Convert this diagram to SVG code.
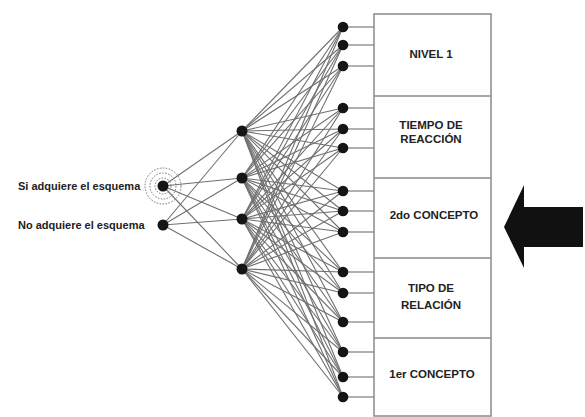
<svg xmlns="http://www.w3.org/2000/svg" width="585" height="417" viewBox="0 0 585 417">
<style>
.edge{stroke:#707070;stroke-width:1.1;fill:none}
.node{fill:#151515}
.box{fill:#ffffff;stroke:#8a8a8a;stroke-width:1.5}
.div{stroke:#8a8a8a;stroke-width:1.5}
.lbl{font-family:"Liberation Sans",Arial,sans-serif;font-weight:bold;font-size:11px;fill:#222}
.blbl{font-family:"Liberation Sans",Arial,sans-serif;font-weight:bold;font-size:11.5px;fill:#222}
.ring{fill:none;stroke:#777;stroke-width:1;stroke-dasharray:1.6 1.4}
</style>
<rect width="585" height="417" fill="#ffffff"/>
<g id="connectors">
<line class="edge" x1="163" y1="186" x2="242" y2="131"/>
<line class="edge" x1="163" y1="186" x2="242" y2="178"/>
<line class="edge" x1="163" y1="186" x2="242" y2="219"/>
<line class="edge" x1="163" y1="186" x2="242" y2="269"/>
<line class="edge" x1="163" y1="225" x2="242" y2="131"/>
<line class="edge" x1="163" y1="225" x2="242" y2="178"/>
<line class="edge" x1="163" y1="225" x2="242" y2="219"/>
<line class="edge" x1="163" y1="225" x2="242" y2="269"/>
<g>
<line class="edge" x1="242" y1="131" x2="343" y2="27"/>
<line class="edge" x1="242" y1="131" x2="343" y2="45"/>
<line class="edge" x1="242" y1="131" x2="343" y2="66"/>
<line class="edge" x1="242" y1="131" x2="343" y2="108"/>
<line class="edge" x1="242" y1="131" x2="343" y2="129"/>
<line class="edge" x1="242" y1="131" x2="343" y2="148"/>
<line class="edge" x1="242" y1="131" x2="343" y2="191"/>
<line class="edge" x1="242" y1="131" x2="343" y2="211"/>
<line class="edge" x1="242" y1="131" x2="343" y2="232"/>
<line class="edge" x1="242" y1="131" x2="343" y2="272"/>
<line class="edge" x1="242" y1="131" x2="343" y2="293"/>
<line class="edge" x1="242" y1="131" x2="343" y2="322"/>
<line class="edge" x1="242" y1="131" x2="343" y2="352"/>
<line class="edge" x1="242" y1="131" x2="343" y2="377"/>
<line class="edge" x1="242" y1="131" x2="343" y2="397"/>
</g>
<g>
<line class="edge" x1="242" y1="178" x2="343" y2="27"/>
<line class="edge" x1="242" y1="178" x2="343" y2="45"/>
<line class="edge" x1="242" y1="178" x2="343" y2="66"/>
<line class="edge" x1="242" y1="178" x2="343" y2="108"/>
<line class="edge" x1="242" y1="178" x2="343" y2="129"/>
<line class="edge" x1="242" y1="178" x2="343" y2="148"/>
<line class="edge" x1="242" y1="178" x2="343" y2="191"/>
<line class="edge" x1="242" y1="178" x2="343" y2="211"/>
<line class="edge" x1="242" y1="178" x2="343" y2="232"/>
<line class="edge" x1="242" y1="178" x2="343" y2="272"/>
<line class="edge" x1="242" y1="178" x2="343" y2="293"/>
<line class="edge" x1="242" y1="178" x2="343" y2="322"/>
<line class="edge" x1="242" y1="178" x2="343" y2="352"/>
<line class="edge" x1="242" y1="178" x2="343" y2="377"/>
<line class="edge" x1="242" y1="178" x2="343" y2="397"/>
</g>
<g>
<line class="edge" x1="242" y1="219" x2="343" y2="27"/>
<line class="edge" x1="242" y1="219" x2="343" y2="45"/>
<line class="edge" x1="242" y1="219" x2="343" y2="66"/>
<line class="edge" x1="242" y1="219" x2="343" y2="108"/>
<line class="edge" x1="242" y1="219" x2="343" y2="129"/>
<line class="edge" x1="242" y1="219" x2="343" y2="148"/>
<line class="edge" x1="242" y1="219" x2="343" y2="191"/>
<line class="edge" x1="242" y1="219" x2="343" y2="211"/>
<line class="edge" x1="242" y1="219" x2="343" y2="232"/>
<line class="edge" x1="242" y1="219" x2="343" y2="272"/>
<line class="edge" x1="242" y1="219" x2="343" y2="293"/>
<line class="edge" x1="242" y1="219" x2="343" y2="322"/>
<line class="edge" x1="242" y1="219" x2="343" y2="352"/>
<line class="edge" x1="242" y1="219" x2="343" y2="377"/>
<line class="edge" x1="242" y1="219" x2="343" y2="397"/>
</g>
<g>
<line class="edge" x1="242" y1="269" x2="343" y2="27"/>
<line class="edge" x1="242" y1="269" x2="343" y2="45"/>
<line class="edge" x1="242" y1="269" x2="343" y2="66"/>
<line class="edge" x1="242" y1="269" x2="343" y2="108"/>
<line class="edge" x1="242" y1="269" x2="343" y2="129"/>
<line class="edge" x1="242" y1="269" x2="343" y2="148"/>
<line class="edge" x1="242" y1="269" x2="343" y2="191"/>
<line class="edge" x1="242" y1="269" x2="343" y2="211"/>
<line class="edge" x1="242" y1="269" x2="343" y2="232"/>
<line class="edge" x1="242" y1="269" x2="343" y2="272"/>
<line class="edge" x1="242" y1="269" x2="343" y2="293"/>
<line class="edge" x1="242" y1="269" x2="343" y2="322"/>
<line class="edge" x1="242" y1="269" x2="343" y2="352"/>
<line class="edge" x1="242" y1="269" x2="343" y2="377"/>
<line class="edge" x1="242" y1="269" x2="343" y2="397"/>
</g>
<g>
<line class="edge" x1="343" y1="27" x2="374" y2="27"/>
<line class="edge" x1="343" y1="45" x2="374" y2="45"/>
<line class="edge" x1="343" y1="66" x2="374" y2="66"/>
<line class="edge" x1="343" y1="108" x2="374" y2="108"/>
<line class="edge" x1="343" y1="129" x2="374" y2="129"/>
<line class="edge" x1="343" y1="148" x2="374" y2="148"/>
<line class="edge" x1="343" y1="191" x2="374" y2="191"/>
<line class="edge" x1="343" y1="211" x2="374" y2="211"/>
<line class="edge" x1="343" y1="232" x2="374" y2="232"/>
<line class="edge" x1="343" y1="272" x2="374" y2="272"/>
<line class="edge" x1="343" y1="293" x2="374" y2="293"/>
<line class="edge" x1="343" y1="322" x2="374" y2="322"/>
<line class="edge" x1="343" y1="352" x2="374" y2="352"/>
<line class="edge" x1="343" y1="377" x2="374" y2="377"/>
<line class="edge" x1="343" y1="397" x2="374" y2="397"/>
</g>
</g>
<g id="input-si">
<circle class="ring" cx="163" cy="186" r="8"/>
<circle class="ring" cx="163" cy="186" r="13"/>
<circle class="ring" cx="163" cy="186" r="18"/>
<circle class="node" cx="163" cy="186" r="5.5"/>
<text class="lbl" x="18" y="190">Si adquiere el esquema</text>
</g>
<g id="input-no">
<circle class="node" cx="163" cy="225" r="5.5"/>
<text class="lbl" x="18" y="229">No adquiere el esquema</text>
</g>
<g id="hidden-1"><circle class="node" cx="242" cy="131" r="5.5"/></g>
<g id="hidden-2"><circle class="node" cx="242" cy="178" r="5.5"/></g>
<g id="hidden-3"><circle class="node" cx="242" cy="219" r="5.5"/></g>
<g id="hidden-4"><circle class="node" cx="242" cy="269" r="5.5"/></g>
<g id="out-1"><circle class="node" cx="343" cy="27" r="5.3"/></g>
<g id="out-2"><circle class="node" cx="343" cy="45" r="5.3"/></g>
<g id="out-3"><circle class="node" cx="343" cy="66" r="5.3"/></g>
<g id="out-4"><circle class="node" cx="343" cy="108" r="5.3"/></g>
<g id="out-5"><circle class="node" cx="343" cy="129" r="5.3"/></g>
<g id="out-6"><circle class="node" cx="343" cy="148" r="5.3"/></g>
<g id="out-7"><circle class="node" cx="343" cy="191" r="5.3"/></g>
<g id="out-8"><circle class="node" cx="343" cy="211" r="5.3"/></g>
<g id="out-9"><circle class="node" cx="343" cy="232" r="5.3"/></g>
<g id="out-10"><circle class="node" cx="343" cy="272" r="5.3"/></g>
<g id="out-11"><circle class="node" cx="343" cy="293" r="5.3"/></g>
<g id="out-12"><circle class="node" cx="343" cy="322" r="5.3"/></g>
<g id="out-13"><circle class="node" cx="343" cy="352" r="5.3"/></g>
<g id="out-14"><circle class="node" cx="343" cy="377" r="5.3"/></g>
<g id="out-15"><circle class="node" cx="343" cy="397" r="5.3"/></g>
<g id="box">
<rect class="box" x="374" y="14" width="117" height="402"/>
<line class="div" x1="374" y1="96" x2="491" y2="96"/>
<line class="div" x1="374" y1="178" x2="491" y2="178"/>
<line class="div" x1="374" y1="258" x2="491" y2="258"/>
<line class="div" x1="374" y1="338" x2="491" y2="338"/>
</g>
<g id="nivel1"><text class="blbl" x="431" y="58" text-anchor="middle">NIVEL 1</text></g>
<g id="tiempo"><text class="blbl" x="431" y="129" text-anchor="middle">TIEMPO DE</text><text class="blbl" x="431" y="143" text-anchor="middle">REACCIÓN</text></g>
<g id="concepto2"><text class="blbl" x="434" y="219" text-anchor="middle">2do CONCEPTO</text></g>
<g id="tipo"><text class="blbl" x="431" y="292" text-anchor="middle">TIPO DE</text><text class="blbl" x="431" y="309" text-anchor="middle">RELACIÓN</text></g>
<g id="concepto1"><text class="blbl" x="432" y="378" text-anchor="middle">1er CONCEPTO</text></g>
<g id="arrow"><polygon points="504,227 524,185 524,207 583,207 583,247 524,247 524,268" fill="#111"/></g>
</svg>
